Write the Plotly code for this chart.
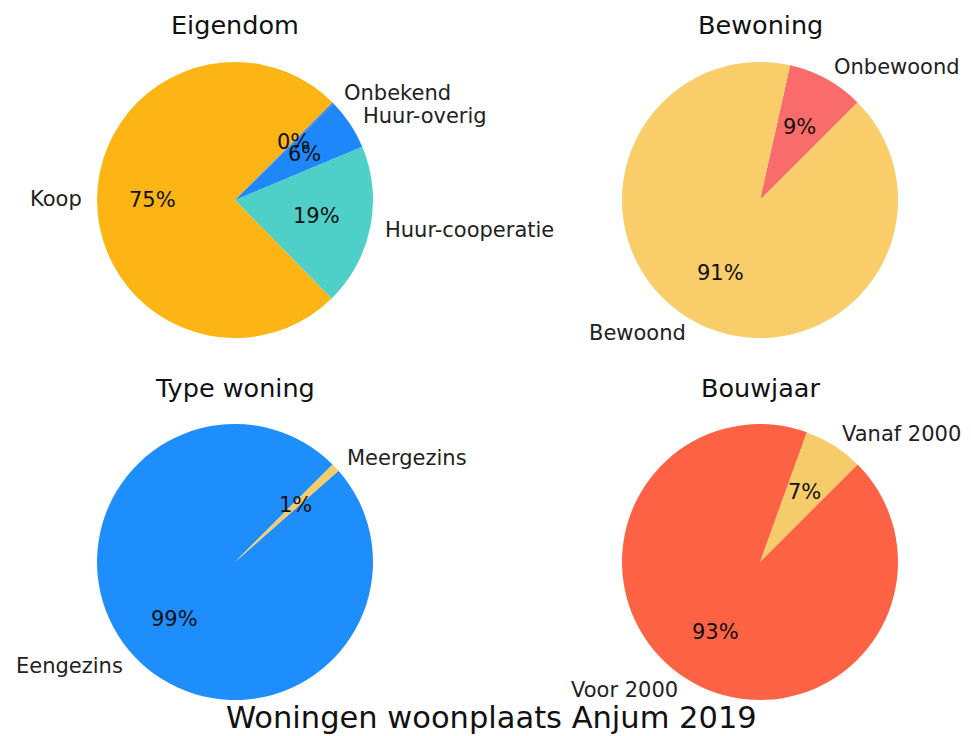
import math
import plotly.graph_objects as go

# ---- data ----
eig_labels = ["Koop", "Huur-cooperatie", "Huur-overig", "Onbekend"]
eig_values = [75.0, 19.0, 6.0, 0.2]
eig_colors = ["#FDB515", "#4ED0C8", "#1E88FA", "#3A7FE0"]

bew_labels = ["Onbewoond", "Bewoond"]
bew_values = [9, 91]
bew_colors = ["#FA6B6B", "#F8CD6A"]

typ_labels = ["Eengezins", "Meergezins"]
typ_values = [99, 1]
typ_colors = ["#1E8EFC", "#F6CC6A"]

bou_labels = ["Vanaf 2000", "Voor 2000"]
bou_values = [7, 93]
bou_colors = ["#F6CC6A", "#FE6245"]

titles = ["Eigendom", "Bewoning", "Type woning", "Bouwjaar"]
suptitle = "Woningen woonplaats Anjum 2019"

# ---- layout geometry (pixels) ----
W, H = 971, 736
R = 138
START = 45  # degrees, counter-clockwise from 3 o'clock
centers = [(235, 200), (760, 200), (235, 562), (760, 562)]
title_y = [25, 25, 388, 388]
FONT = "DejaVu Sans"

def px(x):
    return x / W

def py(y):
    return (H - y) / H

fig = go.Figure()
annotations = []

pies = [
    (eig_labels, eig_values, eig_colors),
    (bew_labels, bew_values, bew_colors),
    (typ_labels, typ_values, typ_colors),
    (bou_labels, bou_values, bou_colors),
]

for (labels, values, colors), (cx, cy), title, ty in zip(pies, centers, titles, title_y):
    total = sum(values)
    first_span = 360.0 * values[0] / total
    # plotly (counterclockwise): first slice ends at `rotation` (cw from 12 o'clock)
    rot = 90 - START - first_span
    while rot <= -180:
        rot += 360
    while rot > 180:
        rot -= 360
    fig.add_trace(go.Pie(
        labels=labels, values=values, sort=False,
        direction="counterclockwise", rotation=rot,
        marker=dict(colors=colors, line=dict(width=0)),
        textinfo="none", hoverinfo="label+percent", showlegend=False,
        domain=dict(x=[px(cx - R), px(cx + R)], y=[py(cy + R), py(cy - R)]),
    ))
    ang = START
    for lab, v in zip(labels, values):
        span = 360.0 * v / total
        mid = math.radians(ang + span / 2)
        ang += span
        c, s = math.cos(mid), math.sin(mid)
        # percentage inside at 0.6 R
        annotations.append(dict(
            x=px(cx + 0.6 * R * c), y=py(cy - 0.6 * R * s),
            xref="paper", yref="paper", showarrow=False,
            text=f"{100.0 * v / total:.0f}%", xanchor="center", yanchor="middle",
            font=dict(family=FONT, size=21, color="#111"),
        ))
        # label outside at 1.1 R
        annotations.append(dict(
            x=px(cx + 1.1 * R * c), y=py(cy - 1.1 * R * s),
            xref="paper", yref="paper", showarrow=False,
            text=lab, xanchor="left" if c > 0 else "right", yanchor="middle",
            font=dict(family=FONT, size=21, color="#222"), borderpad=0,
        ))
    annotations.append(dict(
        x=px(cx), y=py(ty), xref="paper", yref="paper", showarrow=False,
        text=title, xanchor="center", yanchor="middle",
        font=dict(family=FONT, size=25.5, color="#111"),
    ))

annotations.append(dict(
    x=px(491), y=py(717), xref="paper", yref="paper", showarrow=False,
    text=suptitle, xanchor="center", yanchor="middle",
    font=dict(family=FONT, size=30.5, color="#111"),
))

fig.update_layout(
    width=W, height=H,
    margin=dict(l=0, r=0, t=0, b=0),
    paper_bgcolor="white", plot_bgcolor="white",
    annotations=annotations,
)

fig.write_html(
    "out.html",
    config={"displayModeBar": False},
    post_script="document.body.style.margin='0px';document.body.style.overflow='hidden';",
)
